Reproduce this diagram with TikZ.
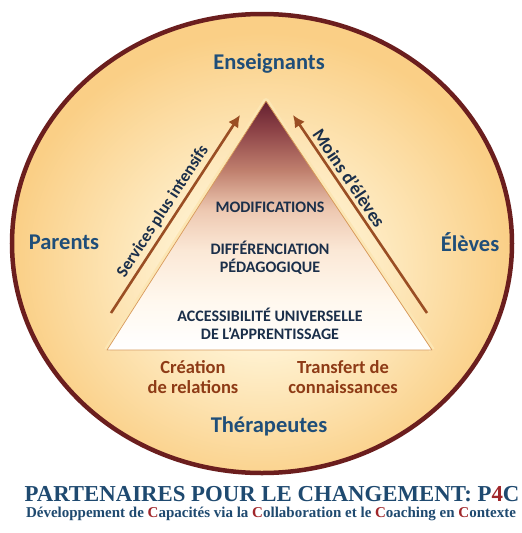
\documentclass[tikz,border=0pt]{standalone}
\usepackage{fontspec}
\setmainfont{Carlito}
\newfontfamily\titlefont{Liberation Serif}
\usetikzlibrary{arrows.meta}

\definecolor{ringline}{HTML}{6B1E1E}
\definecolor{discin}{HTML}{FFF2D2}
\definecolor{discout}{HTML}{FACF86}
\definecolor{partner}{HTML}{1F4E79}
\definecolor{tiertext}{HTML}{1B2F4A}
\definecolor{gainbrown}{HTML}{8E3B16}
\definecolor{arrowbrown}{HTML}{9A4E24}
\definecolor{titleblue}{HTML}{1F4A70}
\definecolor{titlered}{HTML}{A0262A}
\definecolor{edgeglow}{HTML}{FCE6B4}
\definecolor{edgeline}{HTML}{D89A5A}
\definecolor{tierA}{HTML}{FFF8EE}
\definecolor{tierB}{HTML}{FBE8D6}
\definecolor{tierC}{HTML}{EEC9B2}
\definecolor{tierD}{HTML}{C0806E}
\definecolor{tierE}{HTML}{8E4448}
\definecolor{tierF}{HTML}{652030}

% warm glow of the disc, lighter near the middle
\pgfdeclareradialshading{discglow}{\pgfpoint{0bp}{-4bp}}{%
  color(0bp)=(discin); color(8bp)=(discin); color(25bp)=(discout); color(50bp)=(discout)}
% pyramid: white base rising to a dark maroon apex
\pgfdeclareverticalshading{tiershade}{100bp}{%
  color(0bp)=(white); color(25bp)=(white); color(35bp)=(tierA); color(45bp)=(tierB);
  color(53bp)=(tierC); color(61bp)=(tierD); color(69bp)=(tierE); color(75bp)=(tierF);
  color(100bp)=(tierF)}

\tikzset{
  partnerlabel/.style={font=\bfseries\fontsize{22.5}{26}\selectfont, text=partner},
  tierlabel/.style={font=\bfseries\fontsize{16}{19}\selectfont, text=tiertext, align=center},
  gainlabel/.style={font=\bfseries\fontsize{18.5}{22}\selectfont, text=gainbrown, align=center},
  risearrow/.style={draw=arrowbrown, line width=2.6pt,
    -{Latex[length=12pt,width=12pt]}},
  arrowlabel/.style={font=\bfseries\fontsize{17}{20}\selectfont, text=tiertext, sloped},
}

\begin{document}
\begin{tikzpicture}[x=1pt,y=-1pt]
  \useasboundingbox (0,0) rectangle (522,533);
  \fill[white] (0,0) rectangle (522,533);

  % the partnership disc
  \shade[shading=discglow] (262,243.5) ellipse [x radius=250pt, y radius=229.5pt];
  \draw[ringline, line width=4.5pt] (262,243.5) ellipse [x radius=250pt, y radius=229.5pt];

  % the pyramid of supports
  \coordinate (apex) at (266,101);
  \coordinate (baseL) at (107,350);
  \coordinate (baseR) at (432,350);
  \draw[edgeglow, line width=6pt, line join=round] (baseL) -- (apex) -- (baseR);
  \shade[shading=tiershade] (apex) -- (baseR) -- (baseL) -- cycle;
  \draw[edgeline, line width=0.7pt, line join=round] (apex) -- (baseR) -- (baseL) -- cycle;

  % rising arrows along the sides
  \coordinate (leftLow) at (111,313);
  \coordinate (leftHigh) at (240,115);
  \coordinate (rightLow) at (427,313);
  \coordinate (rightHigh) at (293,115);
  \draw[risearrow] (leftLow) -- (leftHigh)
    node[arrowlabel, pos=0.48, above=0pt] (moreservices) {Services plus intensifs};
  \draw[risearrow] (rightLow) -- (rightHigh)
    node[arrowlabel, font=\bfseries\fontsize{18.5}{20}\selectfont, pos=0.65, above=0pt]
    (fewerpupils) {Moins d'élèves};

  % partners around the disc
  \node[partnerlabel] (teachers) at (269,64) {Enseignants};
  \node[partnerlabel] (parents) at (64,242) {Parents};
  \node[partnerlabel] (pupils) at (470,242) {Élèves};
  \node[partnerlabel] (therapists) at (269,426) {Thérapeutes};

  % tiers of the pyramid
  \node[tierlabel] (tier3) at (270,207) {MODIFICATIONS};
  \node[tierlabel] (tier2) at (270,258) {DIFFÉRENCIATION\\[-1pt]PÉDAGOGIQUE};
  \node[tierlabel] (tier1) at (270,323.5) {ACCESSIBILITÉ UNIVERSELLE\\[-1pt]DE L’APPRENTISSAGE};

  % outcomes under the base
  \node[gainlabel] (relations) at (193,377) {Création\\[-2pt]de relations};
  \node[gainlabel] (transfer) at (343,377) {Transfert de\\[-2pt]connaissances};

  % title block
  \node[font=\titlefont\bfseries\fontsize{22.8}{26}\selectfont, text=titleblue]
    (title) at (272,494) {PARTENAIRES POUR LE CHANGEMENT: P\textcolor{titlered}{4}C};
  \node[font=\titlefont\bfseries\fontsize{15}{17}\selectfont, text=titleblue]
    (subtitle) at (271,514) {Développement de \textcolor{titlered}{C}apacités via la
    \textcolor{titlered}{C}ollaboration et le \textcolor{titlered}{C}oaching en
    \textcolor{titlered}{C}ontexte};
\end{tikzpicture}
\end{document}
